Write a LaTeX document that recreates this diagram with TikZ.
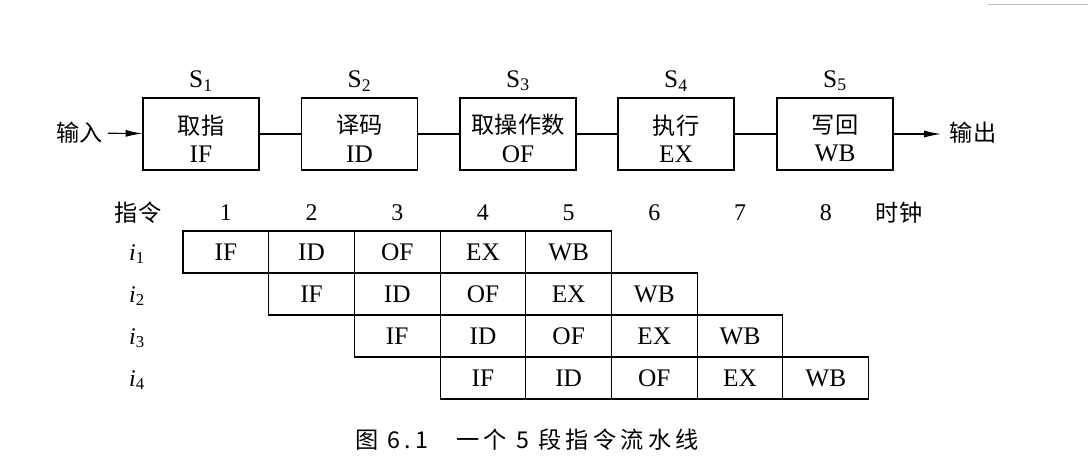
\documentclass[tikz,border=0pt]{standalone}
\usepackage{fontspec}
\setmainfont{Liberation Serif}
\newfontfamily\cjk{Noto Sans CJK SC}
\newfontfamily\capfont{Noto Sans CJK SC}[LetterSpace=18]
\usetikzlibrary{arrows.meta,positioning}

\newcommand{\stagetext}[2]{{\cjk\fontsize{16.5}{16.5}\selectfont #1\rule{0pt}{20pt}}\\#2}

\tikzset{
  stagebox/.style={draw, line width=0.8pt, minimum width=2.9cm, minimum height=1.8cm,
    inner sep=0pt, align=center, font=\fontsize{18}{20}\selectfont},
  cjktext/.style={font=\cjk\fontsize{16.5}{16.5}\selectfont},
  cell/.style={draw, line width=0.8pt, minimum width=2.1425cm, minimum height=1.05cm,
    inner sep=0pt, font=\fontsize{18}{18}\selectfont},
  headnum/.style={font=\fontsize{17}{17}\selectfont},
  link/.style={line width=0.8pt},
  flowarrow/.style={line width=0.8pt, -{Latex[length=12pt,width=5pt]}},
}

\begin{document}
\begin{tikzpicture}[x=0.025cm, y=-0.025cm]
  \useasboundingbox (0,0) rectangle (1088,474);

  % faint rule at top right
  \draw[gray!50, line width=0.6pt] (988,4) -- (1088,4);

  % pipeline stages
  \node[stagebox] (s1) at (201,134) {\stagetext{取指}{IF}};
  \node[stagebox] (s2) at (359.5,134) {\stagetext{译码}{ID}};
  \node[stagebox] (s3) at (518,134) {\stagetext{取操作数}{OF}};
  \node[stagebox] (s4) at (676,134) {\stagetext{执行}{EX}};
  \node[stagebox] (s5) at (835,134) {\stagetext{写回}{WB}};

  % stage names
  \node[above=1pt, font=\fontsize{18}{18}\selectfont] (n1) at (s1.north) {S\textsubscript{1}};
  \node[above=1pt, font=\fontsize{18}{18}\selectfont] (n2) at (s2.north) {S\textsubscript{2}};
  \node[above=1pt, font=\fontsize{18}{18}\selectfont] (n3) at (s3.north) {S\textsubscript{3}};
  \node[above=1pt, font=\fontsize{18}{18}\selectfont] (n4) at (s4.north) {S\textsubscript{4}};
  \node[above=1pt, font=\fontsize{18}{18}\selectfont] (n5) at (s5.north) {S\textsubscript{5}};

  % input / output
  \node[cjktext] (in) at (80,133) {输入};
  \node[cjktext] (out) at (973,133) {输出};
  \coordinate (outend) at (941,134);
  \draw[flowarrow] (in) -- (s1);
  \draw[link] (s1) -- (s2);
  \draw[link] (s2) -- (s3);
  \draw[link] (s3) -- (s4);
  \draw[link] (s4) -- (s5);
  \draw[flowarrow] (s5) -- (outend);

  % header row
  \node[cjktext] (instr) at (138,213) {指令};
  \node[headnum] (t1) at (225.85,213) {1};
  \node[headnum] (t2) at (311.55,213) {2};
  \node[headnum] (t3) at (397.25,213) {3};
  \node[headnum] (t4) at (482.95,213) {4};
  \node[headnum] (t5) at (568.65,213) {5};
  \node[headnum] (t6) at (654.35,213) {6};
  \node[headnum] (t7) at (740.05,213) {7};
  \node[headnum] (t8) at (825.75,213) {8};
  \node[cjktext] (clock) at (899,213) {时钟};

  % instruction labels
  \node[headnum] (i1) at (137,254) {\textit{i}\textsubscript{1}};
  \node[headnum] (i2) at (137,296) {\textit{i}\textsubscript{2}};
  \node[headnum] (i3) at (137,338) {\textit{i}\textsubscript{3}};
  \node[headnum] (i4) at (137,380) {\textit{i}\textsubscript{4}};

  % i1
  \node[cell] (a1) at (225.85,252) {IF};
  \node[cell] (a2) at (311.55,252) {ID};
  \node[cell] (a3) at (397.25,252) {OF};
  \node[cell] (a4) at (482.95,252) {EX};
  \node[cell] (a5) at (568.65,252) {WB};

  % i2
  \node[cell] (b2) at (311.55,294) {IF};
  \node[cell] (b3) at (397.25,294) {ID};
  \node[cell] (b4) at (482.95,294) {OF};
  \node[cell] (b5) at (568.65,294) {EX};
  \node[cell] (b6) at (654.35,294) {WB};

  % i3
  \node[cell] (c3) at (397.25,336) {IF};
  \node[cell] (c4) at (482.95,336) {ID};
  \node[cell] (c5) at (568.65,336) {OF};
  \node[cell] (c6) at (654.35,336) {EX};
  \node[cell] (c7) at (740.05,336) {WB};

  % i4
  \node[cell] (d4) at (482.95,378) {IF};
  \node[cell] (d5) at (568.65,378) {ID};
  \node[cell] (d6) at (654.35,378) {OF};
  \node[cell] (d7) at (740.05,378) {EX};
  \node[cell] (d8) at (825.75,378) {WB};

  % caption
  \node[font=\capfont\fontsize{16.5}{16.5}\selectfont] (cap) at (527,440) {图 6.1\hspace{1.2em}一个 5 段指令流水线};
\end{tikzpicture}
\end{document}
